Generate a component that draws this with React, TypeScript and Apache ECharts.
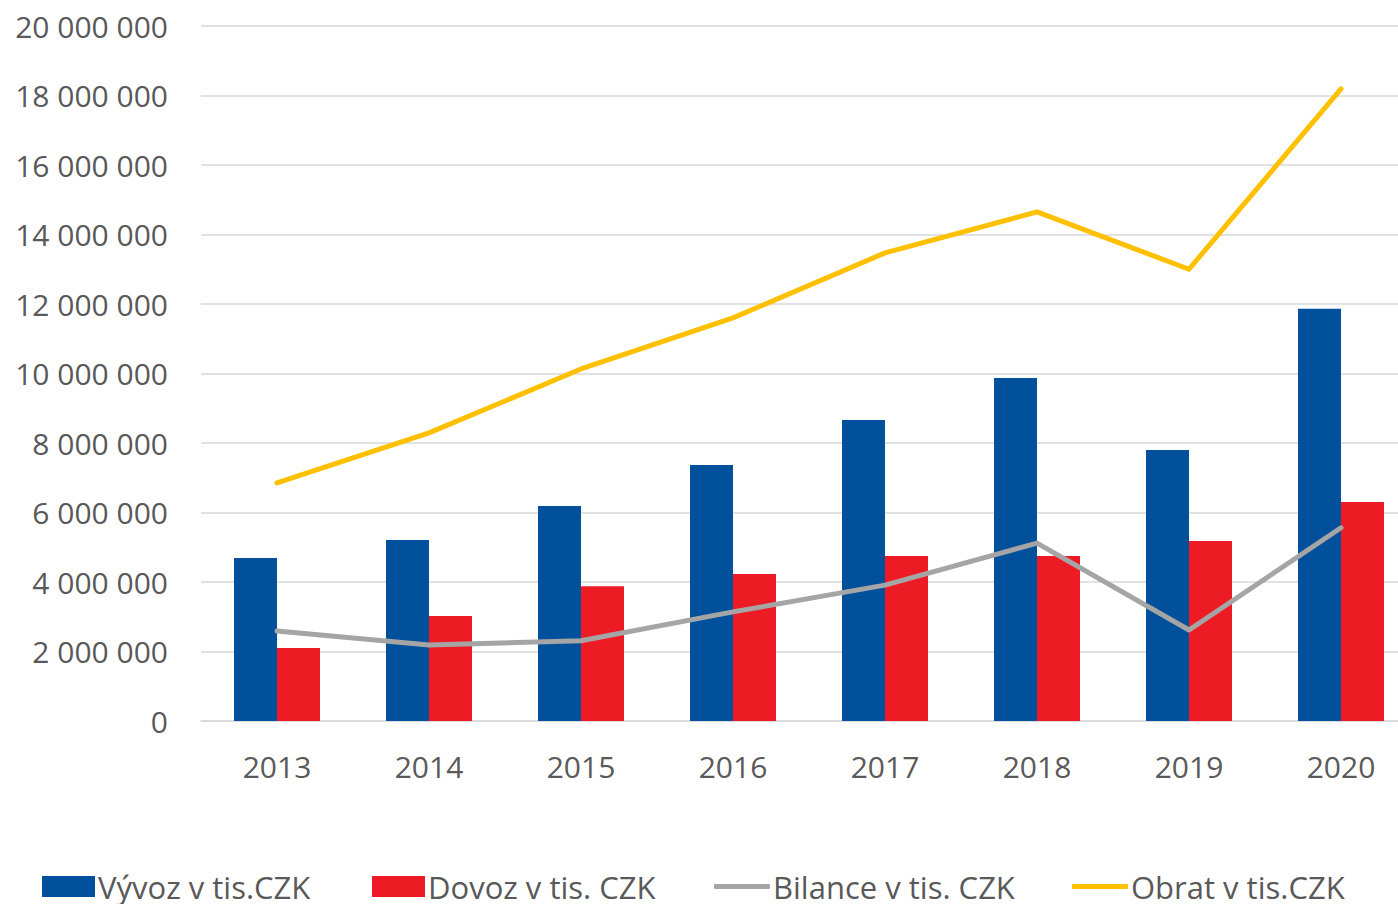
import React, { useEffect, useRef } from "react";
import * as echarts from "echarts";

const years = ["2013", "2014", "2015", "2016", "2017", "2018", "2019", "2020"];
const vyvoz = [4690000, 5210000, 6190000, 7370000, 8660000, 9870000, 7800000, 11860000];
const dovoz = [2100000, 3020000, 3880000, 4230000, 4750000, 4750000, 5180000, 6300000];
const bilance = [2590000, 2190000, 2310000, 3140000, 3910000, 5120000, 2620000, 5560000];
const obrat = [6850000, 8290000, 10130000, 11600000, 13470000, 14650000, 13000000, 18190000];

const seriesNames = ["Vývoz v tis.CZK", "Dovoz v tis. CZK", "Bilance v tis. CZK", "Obrat v tis.CZK"];
const seriesColors = ["#00509B", "#ED1C24", "#A5A5A5", "#FFC000"];

const FONT = "'Open Sans', 'Noto Sans', sans-serif";

function fmt(v: number): string {
  return String(Math.round(v)).replace(/\B(?=(\d{3})+(?!\d))/g, " ");
}

export default function App() {
  const ref = useRef<HTMLDivElement>(null);
  useEffect(() => {
    document.body.style.margin = "0";
    const chart = echarts.init(ref.current!, null, { renderer: "svg" });
    const legendLefts = [42, 372, 714, 1072];
    const legends = seriesNames.map((name, i) => {
      const isLine = i >= 2;
      return {
        left: legendLefts[i],
        top: 871,
        padding: 0,
        itemWidth: isLine ? 56 : 53,
        itemHeight: isLine ? 5 : 21,
        selectedMode: false,
        itemStyle: { borderWidth: 0 },
        textStyle: {
          fontFamily: FONT,
          fontSize: 31,
          lineHeight: 30,
          color: "#595959",
          padding: [0, 0, 0, -2],
        },
        data: [{ name, icon: isLine ? "roundRect" : "rect", itemStyle: { color: seriesColors[i], borderWidth: 0 } }],
      };
    });
    chart.setOption({
      animation: false,
      backgroundColor: "#ffffff",
      textStyle: { fontFamily: FONT },
      grid: { left: 201, right: 0, top: 26, bottom: 183, containLabel: false },
      legend: legends,
      xAxis: {
        type: "category",
        data: years,
        axisLine: { lineStyle: { color: "#d9d9d9", width: 1.5 } },
        axisTick: { show: false },
        axisLabel: { fontFamily: FONT, fontSize: 30, color: "#595959", margin: 30 },
      },
      yAxis: {
        type: "value",
        min: 0,
        max: 20000000,
        interval: 2000000,
        axisLine: { show: false },
        axisTick: { show: false },
        splitLine: { lineStyle: { color: "#d9d9d9", width: 1.5 } },
        axisLabel: {
          fontFamily: FONT,
          fontSize: 30,
          color: "#595959",
          margin: 33,
          formatter: (v: number) => fmt(v),
        },
      },
      series: [
        {
          name: seriesNames[0],
          type: "bar",
          data: vyvoz,
          barWidth: 43,
          barGap: "0%",
          itemStyle: { color: seriesColors[0] },
        },
        {
          name: seriesNames[1],
          type: "bar",
          data: dovoz,
          barWidth: 43,
          barGap: "0%",
          itemStyle: { color: seriesColors[1] },
        },
        {
          name: seriesNames[2],
          type: "line",
          data: bilance,
          symbol: "none",
          z: 5,
          lineStyle: { color: seriesColors[2], width: 5, cap: "round", join: "round" },
          itemStyle: { color: seriesColors[2] },
        },
        {
          name: seriesNames[3],
          type: "line",
          data: obrat,
          symbol: "none",
          z: 5,
          lineStyle: { color: seriesColors[3], width: 5, cap: "round", join: "round" },
          itemStyle: { color: seriesColors[3] },
        },
      ],
    });
    return () => chart.dispose();
  }, []);
  return (
    <div style={{ position: "absolute", left: 0, top: 0, width: 1398, height: 904, overflow: "hidden" }}>
      <div ref={ref} style={{ position: "absolute", left: 0, top: 0, width: 1417, height: 904 }} />
    </div>
  );
}
